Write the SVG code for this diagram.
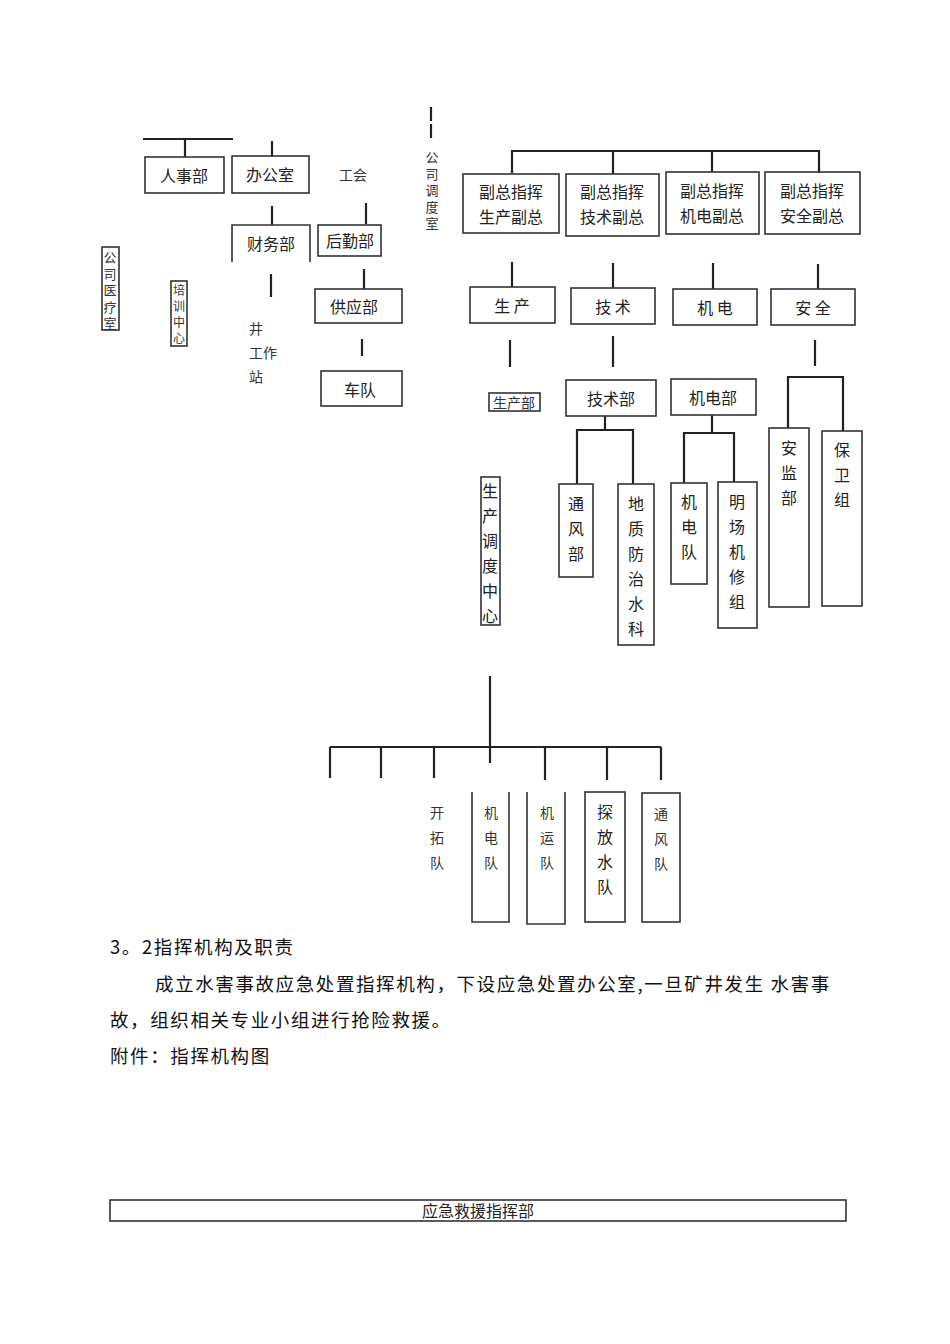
<svg xmlns="http://www.w3.org/2000/svg" width="950" height="1344" viewBox="0 0 950 1344">
<style>
text{font-family:"Noto Sans CJK SC",sans-serif;fill:#222;font-size:16px}
.b{fill:none;stroke:#333;stroke-width:1.6}
.t{font-size:14px;fill:#333}
.s{font-size:13px;fill:#333}
.c line,.c polyline{stroke:#222;stroke-width:2.2;fill:none}
.p{font-size:18.5px;fill:#111;letter-spacing:1.6px}
</style>
<rect width="950" height="1344" fill="#fff"/>
<g class="c">
<line x1="143" y1="139" x2="233" y2="139" stroke-width="3"/>
<line x1="185" y1="139" x2="185" y2="157"/>
<line x1="272" y1="141" x2="272" y2="157"/>
<line x1="272" y1="206" x2="272" y2="225"/>
<line x1="366" y1="203" x2="366" y2="224"/>
<line x1="271" y1="274" x2="271" y2="297" stroke-width="3"/>
<line x1="364" y1="269" x2="364" y2="289"/>
<line x1="362" y1="339" x2="362" y2="356" stroke-width="3"/>
<line x1="431" y1="107" x2="431" y2="121" stroke-width="1.2"/>
<line x1="431" y1="124" x2="431" y2="138" stroke-width="1.2"/>
<polyline points="512,173 512,151 819,151 819,173"/>
<line x1="613" y1="151" x2="613" y2="174"/>
<line x1="712" y1="151" x2="712" y2="172"/>
<line x1="512" y1="262" x2="512" y2="287"/>
<line x1="613" y1="263" x2="613" y2="288"/>
<line x1="713" y1="263" x2="713" y2="289"/>
<line x1="818" y1="264" x2="818" y2="289"/>
<line x1="510" y1="340" x2="510" y2="367" stroke-width="3"/>
<line x1="613" y1="336" x2="613" y2="367" stroke-width="3"/>
<line x1="815" y1="340" x2="815" y2="366"/>
<line x1="605" y1="416" x2="605" y2="430"/>
<polyline points="577,484 577,430 633,430 633,484"/>
<line x1="712" y1="415" x2="712" y2="433"/>
<polyline points="684,483 684,433 734,433 734,482"/>
<polyline points="788,428 788,377 843,377 843,431"/>
<line x1="490" y1="676" x2="490" y2="763"/>
<line x1="330" y1="747" x2="661" y2="747"/>
<line x1="330" y1="747" x2="330" y2="778"/>
<line x1="381" y1="747" x2="381" y2="778"/>
<line x1="434" y1="747" x2="434" y2="778"/>
<line x1="545" y1="747" x2="545" y2="780"/>
<line x1="607" y1="747" x2="607" y2="780"/>
<line x1="661" y1="747" x2="661" y2="780"/>
</g>
<g id="renshi"><rect class="b" x="145" y="157" width="79" height="36"/><text x="184" y="182" text-anchor="middle">人事部</text></g>
<g id="bangong"><rect class="b" x="232" y="156" width="77" height="37"/><text x="270" y="181" text-anchor="middle">办公室</text></g>
<g id="gonghui"><text x="353" y="180" text-anchor="middle" class="t">工会</text></g>
<g id="caiwu"><polyline class="b" points="232,262 232,225 310,225 310,262"/><text x="271" y="250" text-anchor="middle">财务部</text></g>
<g id="houqin"><rect class="b" x="318" y="225" width="63" height="31"/><text x="350" y="247" text-anchor="middle">后勤部</text></g>
<g id="gongying"><rect class="b" x="315" y="289" width="87" height="34"/><text x="354" y="313" text-anchor="middle">供应部</text></g>
<g id="chedui"><rect class="b" x="321" y="371" width="81" height="35"/><text x="360" y="396" text-anchor="middle">车队</text></g>
<g id="jing"><text x="249" y="334" class="t">井</text><text x="249" y="358" class="t">工作</text><text x="249" y="382" class="t">站</text></g>
<g id="yiliao"><rect class="b" x="102" y="247" width="17" height="83" stroke-width="1"/><text x="110" y="262" text-anchor="middle" class="s"><tspan x="110" dy="0">公</tspan><tspan x="110" dy="16.5">司</tspan><tspan x="110" dy="16.5">医</tspan><tspan x="110" dy="16.5">疗</tspan><tspan x="110" dy="16.5">室</tspan></text></g>
<g id="peixun"><rect class="b" x="171" y="281" width="16" height="65" stroke-width="1"/><text x="179" y="295" text-anchor="middle" style="font-size:12px;fill:#333"><tspan x="179" dy="0">培</tspan><tspan x="179" dy="16">训</tspan><tspan x="179" dy="16">中</tspan><tspan x="179" dy="16">心</tspan></text></g>
<g id="diaodu"><text x="432" y="162" text-anchor="middle" class="s"><tspan x="432" dy="0">公</tspan><tspan x="432" dy="16.5">司</tspan><tspan x="432" dy="16.5">调</tspan><tspan x="432" dy="16.5">度</tspan><tspan x="432" dy="16.5">室</tspan></text></g>
<g id="fz1"><rect class="b" x="463" y="174" width="96" height="59"/><text x="511" y="198" text-anchor="middle">副总指挥</text><text x="511" y="223" text-anchor="middle">生产副总</text></g>
<g id="fz2"><rect class="b" x="566" y="174" width="93" height="62"/><text x="612" y="198" text-anchor="middle">副总指挥</text><text x="612" y="223" text-anchor="middle">技术副总</text></g>
<g id="fz3"><rect class="b" x="666" y="172" width="93" height="62"/><text x="712" y="197" text-anchor="middle">副总指挥</text><text x="712" y="222" text-anchor="middle">机电副总</text></g>
<g id="fz4"><rect class="b" x="765" y="172" width="95" height="62"/><text x="812" y="197" text-anchor="middle">副总指挥</text><text x="812" y="222" text-anchor="middle">安全副总</text></g>
<g id="sc"><rect class="b" x="470" y="287" width="85" height="36"/><text x="512" y="312" text-anchor="middle">生 产</text></g>
<g id="js"><rect class="b" x="571" y="288" width="84" height="36"/><text x="613" y="313" text-anchor="middle">技 术</text></g>
<g id="jd"><rect class="b" x="673" y="289" width="84" height="36"/><text x="715" y="314" text-anchor="middle">机 电</text></g>
<g id="aq"><rect class="b" x="771" y="289" width="84" height="36"/><text x="813" y="314" text-anchor="middle">安 全</text></g>
<g id="scb"><rect class="b" x="489" y="393" width="51" height="18" stroke-width="1"/><text x="514" y="408" text-anchor="middle" class="t">生产部</text></g>
<g id="jsb"><rect class="b" x="566" y="380" width="90" height="36"/><text x="611" y="405" text-anchor="middle">技术部</text></g>
<g id="jdb"><rect class="b" x="671" y="379" width="85" height="36"/><text x="713" y="404" text-anchor="middle">机电部</text></g>
<g id="tfb"><rect class="b" x="559" y="484" width="34" height="93"/><text x="576" y="510" text-anchor="middle"><tspan x="576" dy="0">通</tspan><tspan x="576" dy="25">风</tspan><tspan x="576" dy="25">部</tspan></text></g>
<g id="dz"><rect class="b" x="618" y="484" width="36" height="161"/><text x="636" y="510" text-anchor="middle"><tspan x="636" dy="0">地</tspan><tspan x="636" dy="25">质</tspan><tspan x="636" dy="25">防</tspan><tspan x="636" dy="25">治</tspan><tspan x="636" dy="25">水</tspan><tspan x="636" dy="25">科</tspan></text></g>
<g id="jdd"><rect class="b" x="671" y="483" width="36" height="101"/><text x="689" y="508" text-anchor="middle"><tspan x="689" dy="0">机</tspan><tspan x="689" dy="25">电</tspan><tspan x="689" dy="25">队</tspan></text></g>
<g id="mc"><rect class="b" x="718" y="482" width="39" height="146"/><text x="737" y="508" text-anchor="middle"><tspan x="737" dy="0">明</tspan><tspan x="737" dy="25">场</tspan><tspan x="737" dy="25">机</tspan><tspan x="737" dy="25">修</tspan><tspan x="737" dy="25">组</tspan></text></g>
<g id="ajb"><rect class="b" x="769" y="428" width="40" height="179"/><text x="789" y="454" text-anchor="middle"><tspan x="789" dy="0">安</tspan><tspan x="789" dy="25">监</tspan><tspan x="789" dy="25">部</tspan></text></g>
<g id="bwz"><rect class="b" x="822" y="431" width="40" height="175"/><text x="842" y="456" text-anchor="middle"><tspan x="842" dy="0">保</tspan><tspan x="842" dy="25">卫</tspan><tspan x="842" dy="25">组</tspan></text></g>
<g id="scdd"><rect class="b" x="481" y="477" width="19" height="148" stroke-width="1"/><text x="490" y="497" text-anchor="middle"><tspan x="490" dy="0">生</tspan><tspan x="490" dy="25">产</tspan><tspan x="490" dy="25">调</tspan><tspan x="490" dy="25">度</tspan><tspan x="490" dy="25">中</tspan><tspan x="490" dy="25">心</tspan></text></g>
<g id="kt"><text x="437" y="818" text-anchor="middle" class="t"><tspan x="437" dy="0">开</tspan><tspan x="437" dy="25">拓</tspan><tspan x="437" dy="25">队</tspan></text></g>
<g id="jdd2"><polyline class="b" points="472,792 472,922 509,922 509,792"/><text x="491" y="818" text-anchor="middle" class="t"><tspan x="491" dy="0">机</tspan><tspan x="491" dy="25">电</tspan><tspan x="491" dy="25">队</tspan></text></g>
<g id="jyd"><polyline class="b" points="527,792 527,924 565,924 565,792"/><text x="547" y="818" text-anchor="middle" class="t"><tspan x="547" dy="0">机</tspan><tspan x="547" dy="25">运</tspan><tspan x="547" dy="25">队</tspan></text></g>
<g id="tfs"><rect class="b" x="585" y="792" width="40" height="130"/><text x="605" y="818" text-anchor="middle"><tspan x="605" dy="0">探</tspan><tspan x="605" dy="25">放</tspan><tspan x="605" dy="25">水</tspan><tspan x="605" dy="25">队</tspan></text></g>
<g id="tfd"><rect class="b" x="642" y="793" width="38" height="129"/><text x="661" y="819" text-anchor="middle" class="t"><tspan x="661" dy="0">通</tspan><tspan x="661" dy="25">风</tspan><tspan x="661" dy="25">队</tspan></text></g>
<text x="110" y="954" class="p">3。2指挥机构及职责</text>
<text x="155" y="991" class="p">成立水害事故应急处置指挥机构，下设应急处置办公室,一旦矿井发生 水害事</text>
<text x="110" y="1027" class="p">故，组织相关专业小组进行抢险救援。</text>
<text x="110" y="1063" class="p">附件：指挥机构图</text>
<g id="yj"><rect class="b" x="110" y="1200" width="736" height="21" stroke-width="1"/><text x="478" y="1217" text-anchor="middle">应急救援指挥部</text></g>
</svg>
